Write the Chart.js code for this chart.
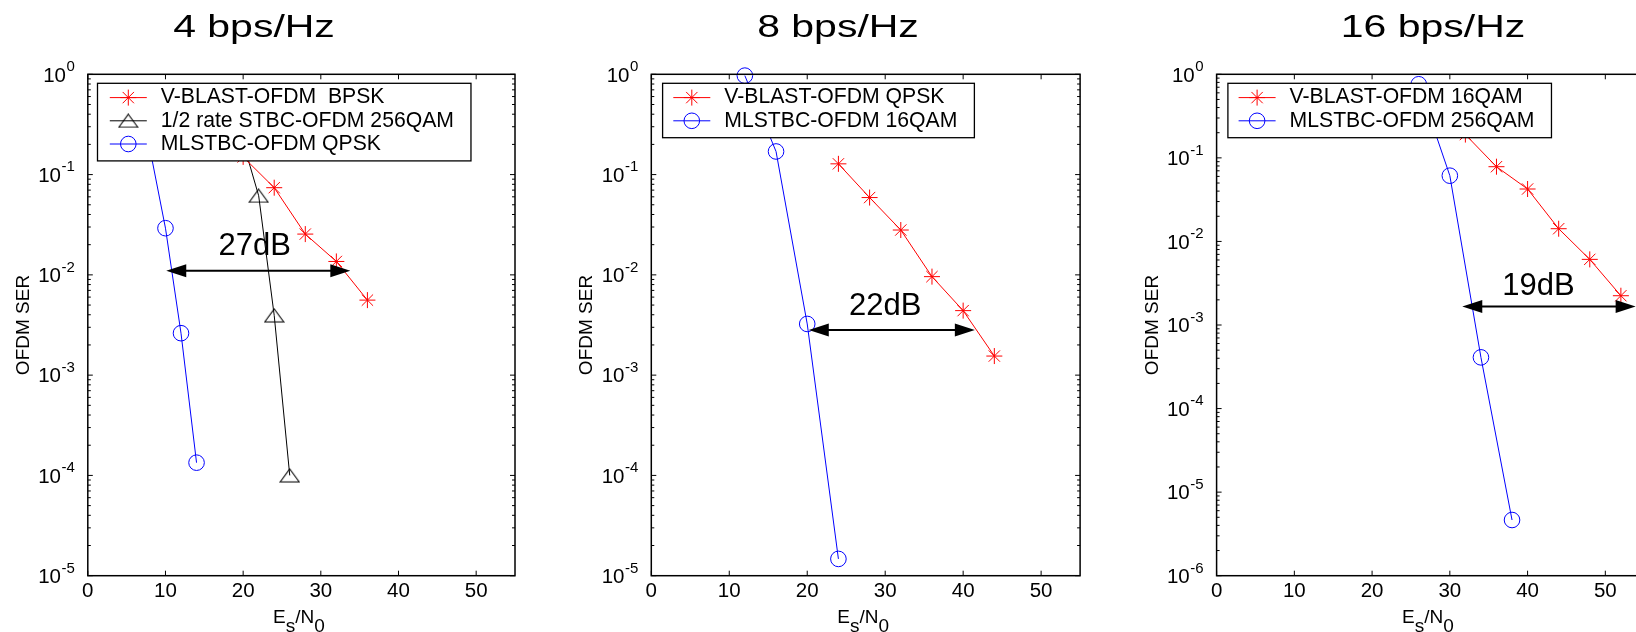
<!DOCTYPE html>
<html>
<head>
<meta charset="utf-8">
<title>OFDM SER vs Es/N0</title>
<script src="https://cdn.jsdelivr.net/npm/chart.js@4.4.0/dist/chart.umd.min.js"></script>
<style>
  html, body { margin: 0; padding: 0; background: #fff; overflow: hidden; }
  body { width: 1636px; height: 632px; position: relative; font-family: 'Liberation Sans', Arial, Helvetica, sans-serif; color: #000; }
  .panel { position: absolute; top: 0; }
  .title { position: absolute; top: 10px; font-size: 32px; line-height: 32px; white-space: nowrap; transform: translateX(-50%) scaleX(1.28); }
  .xlabel { position: absolute; top: 606.6px; font-size: 19px; line-height: 19px; white-space: nowrap; transform: translateX(-50%); }
  .xlabel span { position: relative; top: 9px; }
</style>
</head>
<body>
<script>
// 4 bps/Hz
const labels4 = ['V-BLAST-OFDM  BPSK', '1/2 rate STBC-OFDM 256QAM', 'MLSTBC-OFDM QPSK'];
const snr4Blast = [20, 24, 28, 32, 36];
const ser4Blast = [0.15, 0.074, 0.0255, 0.0136, 0.0056];
const snr4Stbc = [20, 22, 24, 26];
const ser4Stbc = [0.21, 0.0615, 0.00394, 0.0001];
const snr4Ml = [8, 10, 12, 14];
const ser4Ml = [0.18, 0.0292, 0.00262, 0.000134];

// 8 bps/Hz
const labels8 = ['V-BLAST-OFDM QPSK', 'MLSTBC-OFDM 16QAM'];
const snr8Blast = [24, 28, 32, 36, 40, 44];
const ser8Blast = [0.128, 0.059, 0.028, 0.0096, 0.0044, 0.00155];
const snr8Ml = [12, 16, 20, 24];
const ser8Ml = [0.97, 0.17, 0.00324, 0.0000147];

// 16 bps/Hz
const labels16 = ['V-BLAST-OFDM 16QAM', 'MLSTBC-OFDM 256QAM'];
const snr16Blast = [32, 36, 40, 44, 48, 52];
const ser16Blast = [0.19, 0.0784, 0.0424, 0.0142, 0.0061, 0.00224];
const snr16Ml = [26, 30, 34, 38];
const ser16Ml = [0.76, 0.0612, 0.00041, 0.00000464];

// axes
const titles = ['4 bps/Hz', '8 bps/Hz', '16 bps/Hz'];
const xTicks = [0, 10, 20, 30, 40, 50];
const yTicks5 = [1, 1e-1, 1e-2, 1e-3, 1e-4, 1e-5];
const yTickLabels5 = ['10^0', '10^-1', '10^-2', '10^-3', '10^-4', '10^-5'];
const yTicks6 = [1, 1e-1, 1e-2, 1e-3, 1e-4, 1e-5, 1e-6];
const yTickLabels6 = ['10^0', '10^-1', '10^-2', '10^-3', '10^-4', '10^-5', '10^-6'];

// dB gap arrows (in Es/N0 and SER units)
const gapText = ['27dB', '22dB', '19dB'];
const gapFrom = [10.1, 20.2, 31.6];
const gapTo = [33.8, 41.5, 53.9];
const gapLevel = [0.011, 0.00282, 0.00166];
const gapTextX = [21.5, 30.0, 41.4];
const gapTextY = [0.0191, 0.00482, 0.00288];

const FONT = "'Liberation Sans', Arial, Helvetica, sans-serif";
Chart.defaults.font.family = FONT;
Chart.defaults.color = '#000';

const RED = '#ff0000';
const BLUE = '#0000ff';
const BLACK = '#000000';
const PANEL_W = 535;
const PANEL_H = 632;

function makeTriangle(w, h, color) {
    const c = document.createElement('canvas');
    c.width = w + 2;
    c.height = h + 2;
    const g = c.getContext('2d');
    g.strokeStyle = color;
    g.lineWidth = 1.1;
    g.beginPath();
    g.moveTo(c.width / 2, 1);
    g.lineTo(w + 1, h + 1);
    g.lineTo(1, h + 1);
    g.closePath();
    g.stroke();
    return c;
}

const triangle = makeTriangle(19, 13, BLACK);

function series(label, xs, ys, color, marker) {
    return {
        label: label,
        data: xs.map((x, i) => ({ x: x, y: ys[i] })),
        borderColor: color,
        borderWidth: 1,
        pointStyle: marker === 'triangle' ? triangle : marker,
        pointRadius: marker === 'star' ? 8 : 7.8,
        pointBorderColor: color,
        pointBorderWidth: 1,
        pointBackgroundColor: 'rgba(0,0,0,0)',
        fill: false,
        tension: 0,
        clip: false
    };
}

// MATLAB style box with inward ticks and 10^n labels
const frameTicks = {
    id: 'frameTicks',
    afterDraw(chart, args, opts) {
        const { ctx, chartArea: a, scales: { x, y } } = chart;
        ctx.save();
        ctx.strokeStyle = '#000';
        ctx.lineWidth = 1;
        ctx.beginPath();
        x.ticks.forEach(t => {
            const px = x.getPixelForValue(t.value);
            ctx.moveTo(px, a.bottom);
            ctx.lineTo(px, a.bottom - 5);
            ctx.moveTo(px, a.top);
            ctx.lineTo(px, a.top + 5);
        });
        const lo = Math.round(Math.log10(y.min));
        const hi = Math.round(Math.log10(y.max));
        for (let d = lo; d <= hi; d++) {
            for (let k = 1; k <= 9; k++) {
                const v = k * Math.pow(10, d);
                if (v > y.max * 1.001) continue;
                const py = y.getPixelForValue(v);
                const len = k === 1 ? 5 : 3;
                ctx.moveTo(a.left, py);
                ctx.lineTo(a.left + len, py);
                ctx.moveTo(a.right, py);
                ctx.lineTo(a.right - len, py);
            }
        }
        ctx.stroke();
        ctx.lineWidth = 1.5;
        ctx.strokeRect(a.left, a.top, a.right - a.left, a.bottom - a.top);

        // power-of-ten labels with raised exponent
        ctx.fillStyle = '#000';
        ctx.textAlign = 'right';
        ctx.textBaseline = 'alphabetic';
        y.ticks.forEach((t, i) => {
            const parts = opts.labels[i].split('^');
            const py = y.getPixelForValue(t.value);
            const xr = a.left - 13;
            ctx.font = '15px ' + FONT;
            const ew = ctx.measureText(parts[1]).width;
            ctx.fillText(parts[1], xr, py - 3.2);
            ctx.font = '20.5px ' + FONT;
            ctx.fillText(parts[0], xr - ew - 0.5, py + 7.3);
        });
        ctx.restore();
    }
};

// boxed legend drawn over the lines, like the original
const boxLegend = {
    id: 'boxLegend',
    afterDraw(chart, args, opts) {
        const { ctx, chartArea: a } = chart;
        const sets = chart.data.datasets;
        ctx.save();
        ctx.font = '21.2px ' + FONT;
        let textW = 0;
        sets.forEach(d => { textW = Math.max(textW, ctx.measureText(d.label).width); });
        const left = a.left + opts.offset;
        const top = a.top + 9;
        const rowH = 23.2;
        const w = 73 - opts.offset + textW + 17;
        const h = 14.3 + (sets.length - 1) * rowH + 16.9;
        ctx.fillStyle = '#fff';
        ctx.fillRect(left, top, w, h);
        ctx.strokeStyle = '#000';
        ctx.lineWidth = 1.3;
        ctx.strokeRect(left, top, w, h);
        sets.forEach((d, i) => {
            const yy = top + 14.3 + i * rowH;
            ctx.strokeStyle = d.borderColor;
            ctx.lineWidth = d.borderWidth;
            ctx.beginPath();
            ctx.moveTo(a.left + 22, yy);
            ctx.lineTo(a.left + 59, yy);
            ctx.stroke();
            ctx.fillStyle = 'rgba(0,0,0,0)';
            ctx.lineWidth = d.pointBorderWidth;
            Chart.helpers.drawPoint(ctx, {
                pointStyle: d.pointStyle,
                radius: d.pointRadius,
                rotation: 0,
                borderWidth: d.pointBorderWidth
            }, a.left + 40.5, yy);
            ctx.fillStyle = '#000';
            ctx.textAlign = 'left';
            ctx.textBaseline = 'middle';
            ctx.fillText(d.label, a.left + 73, yy);
        });
        ctx.restore();
    }
};

// double headed arrow with the dB gap
const gapArrow = {
    id: 'gapArrow',
    afterDraw(chart, args, g) {
        const { ctx, scales: { x, y } } = chart;
        const x0 = x.getPixelForValue(g.from);
        const x1 = x.getPixelForValue(g.to);
        const yy = y.getPixelForValue(g.level);
        ctx.save();
        ctx.strokeStyle = '#000';
        ctx.fillStyle = '#000';
        ctx.lineWidth = 2;
        ctx.beginPath();
        ctx.moveTo(x0 + 15, yy);
        ctx.lineTo(x1 - 15, yy);
        ctx.stroke();
        ctx.beginPath();
        ctx.moveTo(x0, yy);
        ctx.lineTo(x0 + 20, yy - 6.5);
        ctx.lineTo(x0 + 20, yy + 6.5);
        ctx.closePath();
        ctx.moveTo(x1, yy);
        ctx.lineTo(x1 - 20, yy - 6.5);
        ctx.lineTo(x1 - 20, yy + 6.5);
        ctx.closePath();
        ctx.fill();
        ctx.font = '31px ' + FONT;
        ctx.textAlign = 'center';
        ctx.textBaseline = 'middle';
        ctx.fillText(g.text, x.getPixelForValue(g.tx), y.getPixelForValue(g.ty));
        ctx.restore();
    }
};

const panels = [
    {
        canvasLeft: 0, plotLeft: 87.8, plotRight: 515.0, titleX: 254.2, legendOffset: 9.7,
        yMin: 1e-5, yTicks: yTicks5, yTickLabels: yTickLabels5,
        datasets: [
            series(labels4[0], snr4Blast, ser4Blast, RED, 'star'),
            series(labels4[1], snr4Stbc, ser4Stbc, BLACK, 'triangle'),
            series(labels4[2], snr4Ml, ser4Ml, BLUE, 'circle')
        ]
    },
    {
        canvasLeft: 560, plotLeft: 651.3, plotRight: 1080.1, titleX: 838.1, legendOffset: 11.3,
        yMin: 1e-5, yTicks: yTicks5, yTickLabels: yTickLabels5,
        datasets: [
            series(labels8[0], snr8Blast, ser8Blast, RED, 'star'),
            series(labels8[1], snr8Ml, ser8Ml, BLUE, 'circle')
        ]
    },
    {
        canvasLeft: 1125, plotLeft: 1216.6, plotRight: 1644.2, titleX: 1433.3, legendOffset: 11.3,
        yMin: 1e-6, yTicks: yTicks6, yTickLabels: yTickLabels6,
        datasets: [
            series(labels16[0], snr16Blast, ser16Blast, RED, 'star'),
            series(labels16[1], snr16Ml, ser16Ml, BLUE, 'circle')
        ]
    }
];

panels.forEach(function (p, n) {
    const wrap = document.createElement('div');
    wrap.className = 'panel';
    wrap.style.left = p.canvasLeft + 'px';
    const canvas = document.createElement('canvas');
    canvas.width = PANEL_W;
    canvas.height = PANEL_H;
    wrap.appendChild(canvas);
    document.body.appendChild(wrap);

    const title = document.createElement('div');
    title.className = 'title';
    title.style.left = p.titleX + 'px';
    title.textContent = titles[n];
    document.body.appendChild(title);

    const xl = document.createElement('div');
    xl.className = 'xlabel';
    xl.style.left = ((p.plotLeft + p.plotRight) / 2 - 2.5) + 'px';
    xl.innerHTML = 'E<span>s</span>/N<span>0</span>';
    document.body.appendChild(xl);

    const axisW = p.plotLeft - p.canvasLeft;
    const titlePad = axisW - 64.3 - 11.4;

    new Chart(canvas, {
        type: 'line',
        data: { datasets: p.datasets },
        options: {
            responsive: false,
            animation: false,
            events: [],
            layout: {
                padding: { left: 0, top: 74.3, right: PANEL_W - (p.plotRight - p.canvasLeft), bottom: 0 }
            },
            plugins: {
                legend: { display: false },
                tooltip: { enabled: false },
                frameTicks: { labels: p.yTickLabels },
                boxLegend: { offset: p.legendOffset },
                gapArrow: {
                    text: gapText[n], from: gapFrom[n], to: gapTo[n], level: gapLevel[n],
                    tx: gapTextX[n], ty: gapTextY[n]
                }
            },
            scales: {
                x: {
                    type: 'linear',
                    min: 0,
                    max: 55,
                    afterBuildTicks: s => { s.ticks = xTicks.map(v => ({ value: v })); },
                    afterFit: s => { s.height = PANEL_H - 575.7; },
                    grid: { display: false, drawTicks: false },
                    border: { display: false },
                    ticks: { font: { size: 20.5 }, padding: 3, maxRotation: 0, autoSkip: false }
                },
                y: {
                    type: 'logarithmic',
                    min: p.yMin,
                    max: 1,
                    afterBuildTicks: s => { s.ticks = p.yTicks.map(v => ({ value: v })); },
                    afterFit: s => { s.width = axisW; },
                    grid: { display: false, drawTicks: false },
                    border: { display: false },
                    ticks: { display: false },
                    title: {
                        display: true,
                        text: 'OFDM SER',
                        font: { size: 19 },
                        padding: { top: titlePad, bottom: 0 }
                    }
                }
            }
        },
        plugins: [frameTicks, boxLegend, gapArrow]
    });
});
</script>
</body>
</html>
